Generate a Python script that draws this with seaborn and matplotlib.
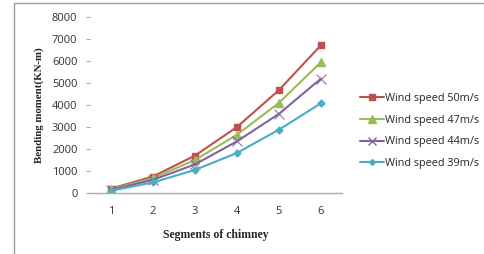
import matplotlib
matplotlib.use("Agg")
import matplotlib.pyplot as plt
import seaborn as sns
import pandas as pd
from matplotlib.lines import Line2D

segments = [1, 2, 3, 4, 5, 6]
ws50 = [200, 750, 1700, 3000, 4680, 6720]
ws47 = [170, 680, 1500, 2650, 4100, 5950]
ws44 = [140, 600, 1300, 2350, 3600, 5200]
ws39 = [100, 480, 1050, 1820, 2880, 4080]
series_names = ["Wind speed 50m/s", "Wind speed 47m/s", "Wind speed 44m/s", "Wind speed 39m/s"]
yticks = [0, 1000, 2000, 3000, 4000, 5000, 6000, 7000, 8000]

rows = []
for name, vals in zip(series_names, [ws50, ws47, ws44, ws39]):
    for s, v in zip(segments, vals):
        rows.append({"seg": s, "val": v, "series": name})
df = pd.DataFrame(rows)

sns.set_style("white")
plt.rcParams['font.family'] = ['Open Sans', 'DejaVu Sans']

fig = plt.figure(figsize=(4.84, 2.54), dpi=100)
ax = fig.add_axes([90/484, 1-193/254, (342-90)/484, (193-17)/254])

palette = ["#C0504D", "#9BBB59", "#8064A2", "#4BACC6"]
markers = {"Wind speed 50m/s": "s", "Wind speed 47m/s": "^",
           "Wind speed 44m/s": "x", "Wind speed 39m/s": "D"}
sizes = {"Wind speed 50m/s": 4.5, "Wind speed 47m/s": 6, "Wind speed 44m/s": 7, "Wind speed 39m/s": 3.5}

for name, col in zip(series_names, palette):
    sub = df[df.series == name]
    sns.lineplot(data=sub, x="seg", y="val", ax=ax, color=col, lw=1.5,
                 marker=markers[name], markersize=sizes[name],
                 markeredgecolor=col, markeredgewidth=1 if markers[name] != "x" else 0.7,
                 label=name, legend=False)

ax.set_xlim(0.5, 6.5)
ax.set_ylim(0, 8000)
ax.set_xticks(segments)
ax.set_yticks(yticks)
ax.set_xticklabels([str(s) for s in segments], fontsize=8, color="#333333")
ax.set_yticklabels([str(t) for t in yticks], fontsize=8, color="#333333")
for sp in ["top", "right", "left"]:
    ax.spines[sp].set_visible(False)
ax.spines["bottom"].set_color("#AAAAAA")
ax.spines["bottom"].set_linewidth(1)
ax.tick_params(axis="y", length=3, color="#AAAAAA", pad=6, left=True)
ax.tick_params(axis="x", length=0, pad=9)

ax.set_xlabel("Segments of chimney", fontsize=8.5, fontweight="bold",
              family="Liberation Serif", labelpad=9)
ax.set_ylabel("Bending moment(KN-m)", fontsize=7.8, fontweight="bold",
              family="Liberation Serif", labelpad=6)

handles = [Line2D([], [], color=c, lw=1.5, marker=markers[n], markersize=sizes[n] * 0.85,
                  markeredgecolor=c) for n, c in zip(series_names, palette)]
fig.legend(handles, series_names, loc="center left", bbox_to_anchor=(360/484, 1-131/254),
           frameon=False, fontsize=7.8, handlelength=2.2, handletextpad=0.1,
           labelspacing=1.0, borderaxespad=0, borderpad=0)

fig.add_artist(Line2D([14/484, 14/484], [0, 1-3/254], color="#999999", lw=1,
                      transform=fig.transFigure))
fig.add_artist(Line2D([14/484, 1], [1-3/254, 1-3/254], color="#999999", lw=1,
                      transform=fig.transFigure))

fig.savefig("out.png", dpi=100)
